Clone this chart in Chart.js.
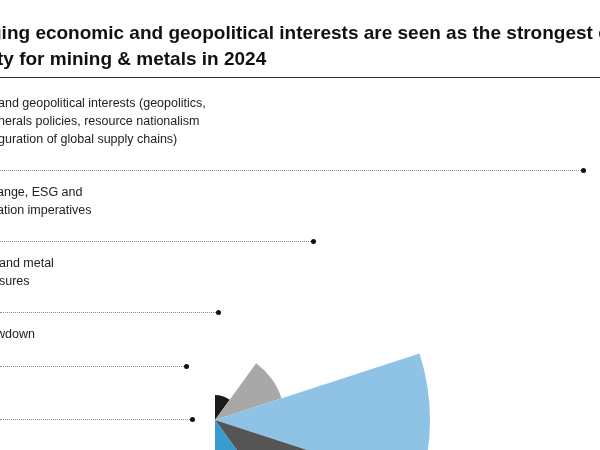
<!DOCTYPE html>
<html><head><meta charset="utf-8">
<script src="https://cdn.jsdelivr.net/npm/chart.js@4"></script>
<style>
body{margin:0;width:600px;height:450px;overflow:hidden;background:#fff;position:relative;font-family:"Liberation Sans",Arial,sans-serif;}
#wrap{position:absolute;left:-285px;top:-80px;width:1000px;height:1000px;}
.t{position:absolute;white-space:nowrap;font-weight:bold;font-size:19px;color:#111;}
.l{position:absolute;white-space:nowrap;font-size:12.5px;color:#222;line-height:18px;}
.rule{position:absolute;left:0;top:77px;width:600px;border-top:1px solid #333;}
.dl{position:absolute;left:0;height:0;border-top:1px dotted #888;}
.dot{position:absolute;width:5px;height:5px;border-radius:50%;background:#111;margin:-2px 0 0 -2px;}
</style></head><body>
<div id="wrap"><canvas id="c" width="1000" height="1000"></canvas></div>
<div class="t" style="left:-10px;top:22px">ging economic and geopolitical interests are seen as the strongest c</div>
<div class="t" style="left:-3px;top:48px">ty for mining &amp; metals in 2024</div>
<div class="rule"></div>
<div class="l" style="left:-2px;top:94px">and geopolitical interests (geopolitics,<br>nerals policies, resource nationalism<br>guration of global supply chains)</div>
<div class="l" style="left:-3px;top:183px">ange, ESG and<br>ation imperatives</div>
<div class="l" style="left:-1px;top:254px">and metal<br>sures</div>
<div class="l" style="left:-4px;top:325px">wdown</div>
<div id="leaders"></div>
<script>
const categories=["Other","Slowdown","Cost and metal pressures","Climate change, ESG and decarbonisation imperatives","Diverging economic and geopolitical interests","","","","",""];
const values=[25,70,215,240,455,0.001,0.001,0.001,0.001,0.001];
const colors=["#1a1a1a","#a8a8a8","#8ec3e5","#555555","#3a9bd0","#fff","#fff","#fff","#fff","#fff"];
const leaderY=[419,366,312,241,170];
const leaderX=[192,186,218,313,583];
new Chart(document.getElementById('c'),{type:'polarArea',
data:{labels:categories,datasets:[{data:values,backgroundColor:colors,borderWidth:0}]},
options:{responsive:false,animation:false,startAngle:-90,layout:{padding:0},
plugins:{legend:{display:false},tooltip:{enabled:false}},
scales:{r:{min:0,max:500,display:false}}}});
const L=document.getElementById('leaders');
leaderY.forEach((y,i)=>{const d=document.createElement('div');d.className='dl';d.style.top=y+'px';d.style.width=leaderX[i]+'px';L.appendChild(d);
const p=document.createElement('div');p.className='dot';p.style.left=leaderX[i]+'px';p.style.top=y+'px';L.appendChild(p);});
</script></body></html>
